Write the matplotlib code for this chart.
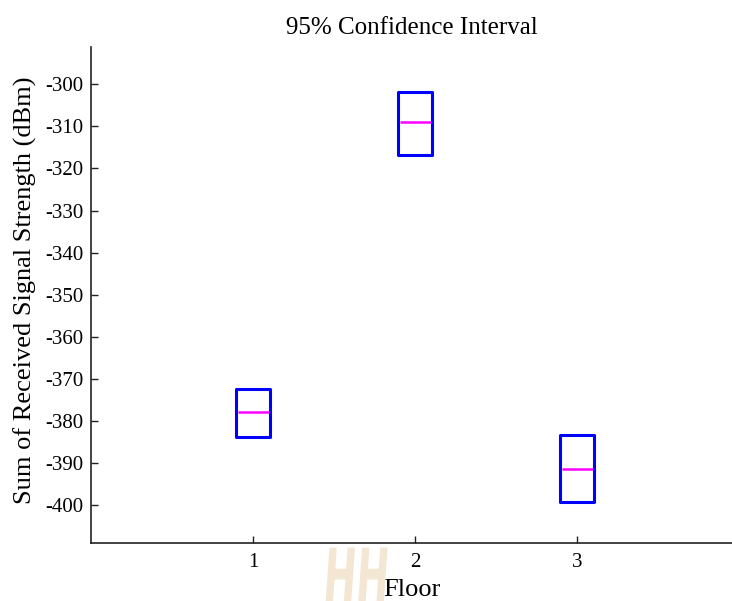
import numpy as np
import matplotlib
matplotlib.use("Agg")
import matplotlib.pyplot as plt
from matplotlib.textpath import TextPath
from matplotlib.patches import PathPatch
from matplotlib.font_manager import FontProperties
import matplotlib.transforms as mtransforms

# confidence interval per floor (dBm)
floors = [1, 2, 3]
ci_upper = [-372.4, -301.7, -383.3]
ci_lower = [-384.0, -316.8, -399.4]
ci_median = [-378.0, -309.0, -391.4]

yticks = list(range(-300, -401, -10))

plt.rcParams['font.family'] = ['Liberation Serif', 'DejaVu Serif']
plt.rcParams['axes.unicode_minus'] = False

fig = plt.figure(figsize=(7.32, 6.01), dpi=100)
ax = fig.add_axes([91/732, 58/601, 641/732, 496/601])

# faint logo behind the x label
tp = TextPath((0, 0), "HH", size=10, prop=FontProperties(family='DejaVu Sans', weight='bold'))
tr = mtransforms.Affine2D().scale(3.9, 7.6).skew_deg(4, 0).translate(322, -2)
fig.patches.append(PathPatch(tp, transform=tr, facecolor='#f3e6d2', edgecolor='none', zorder=0))

width = 0.21
heights = np.array(ci_upper) - np.array(ci_lower)
ax.bar(floors, heights, bottom=ci_lower, width=width, fill=False,
       edgecolor='#0000ff', linewidth=2.2, joinstyle='round', zorder=3)
ax.hlines(ci_median, np.array(floors) - width/2 + 0.01, np.array(floors) + width/2 - 0.01,
          colors='#ff00ff', linewidth=1.8, zorder=4)

ax.set_xlim(0, 3.954)
ax.set_ylim(-409.1, -291.1)
ax.set_xticks(floors)
ax.set_yticks(yticks)
ax.tick_params(direction='in', length=5, width=1, labelsize=15, color='#222222')
ax.tick_params(axis='x', pad=7.5)
ax.tick_params(axis='y', pad=5.5)

for side in ['top', 'right']:
    ax.spines[side].set_visible(False)
for side in ['left', 'bottom']:
    ax.spines[side].set_linewidth(1.2)
    ax.spines[side].set_color('#222222')

ax.set_title("95% Confidence Interval", fontsize=18, pad=9)
ax.set_xlabel("Floor", fontsize=19, labelpad=4.8)
ax.set_ylabel("Sum of Received Signal Strength (dBm)", fontsize=19)
ax.yaxis.set_label_coords(-0.084, 0.509)

fig.savefig("out.png", dpi=100)
